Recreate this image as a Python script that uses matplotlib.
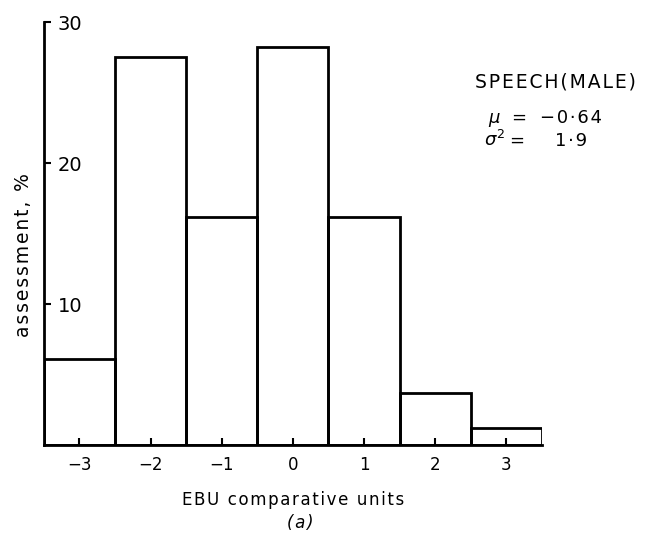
import matplotlib.pyplot as plt

# EBU comparative units and share of assessments (%)
units = [-3, -2, -1, 0, 1, 2, 3]
assessment = [6.1, 27.5, 16.2, 28.2, 16.2, 3.7, 1.2]
y_ticks = [10, 20, 30]
title_text = "SPEECH(MALE)"
mean_value = "\u22120·64"
var_value = "1·9"

plt.rcParams['font.family'] = ['DejaVu Sans']

THIN = "\u2009"
HAIR = "\u200a"


def spaced(s, sep):
    return sep.join(s)


W, H = 645, 539
fig = plt.figure(figsize=(W / 100, H / 100), dpi=100)
ax = fig.add_axes([0.068, 0.174, 0.772, 0.785])

ax.bar(units, assessment, width=1.0, fill=False, edgecolor='black',
       linewidth=2.0, align='center')

ax.set_xlim(-3.5, 3.5)
ax.set_ylim(0, 30)
ax.set_xticks(units)
ax.set_xticklabels(["\u2212" + str(-u) if u < 0 else str(u) for u in units])
ax.set_yticks(y_ticks)
ax.set_yticklabels([str(t) for t in y_ticks])

for side in ['top', 'right']:
    ax.spines[side].set_visible(False)
for side in ['left', 'bottom']:
    ax.spines[side].set_linewidth(2.0)

ax.tick_params(axis='x', direction='in', length=5, width=1.5, labelsize=12, pad=8)
ax.tick_params(axis='y', direction='in', length=5, width=1.5, labelsize=14, pad=-10)
for lab in ax.get_yticklabels():
    lab.set_horizontalalignment('left')

ax.set_xlabel(spaced("EBU comparative units", HAIR), fontsize=12, labelpad=12)
ax.set_ylabel(spaced("assessment, %", HAIR), fontsize=13.5)
ax.yaxis.set_label_coords(-0.022, 0.449)
fig.text(300 / W, 0.02, "(" + HAIR + "a" + HAIR + ")", fontsize=12,
         style='italic', ha='center')


def px_text(x, y, s, size, va='baseline'):
    fig.text(x / W, 1 - y / H, s, fontsize=size, ha='left', va=va)


px_text(475, 82, spaced(title_text, HAIR), 13.5, va='center')
px_text(488, 123, r"$\mu$", 13)
px_text(511, 123, "=", 13)
px_text(540, 123, spaced(mean_value, HAIR), 13)
px_text(484, 146, r"$\sigma^2$", 13)
px_text(509, 146, "=", 13)
px_text(555, 146, spaced(var_value, HAIR), 13)

fig.savefig("out.png", dpi=100)
